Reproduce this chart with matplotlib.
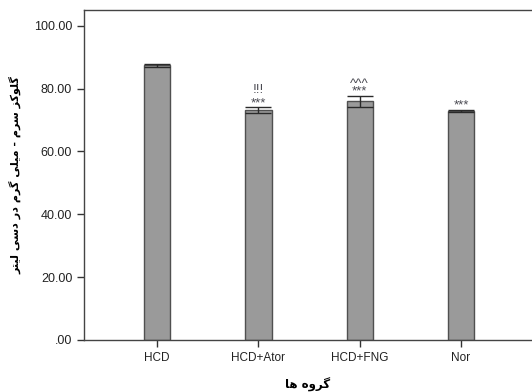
import matplotlib
matplotlib.use("Agg")
import matplotlib.pyplot as plt

groups = ["HCD", "HCD+Ator", "HCD+FNG", "Nor"]
means = [87.4, 73.1, 75.9, 72.8]
errors = [0.5, 0.9, 1.7, 0.4]
marks_low = ["", "***", "***", "***"]
marks_high = ["", "!!!", "^^^", ""]
y_ticks = [0, 20, 40, 60, 80, 100]
y_ticklabels = [".00", "20.00", "40.00", "60.00", "80.00", "100.00"]
y_label = "گلوکز سرم - میلی گرم در دسی لیتر"
x_label = "گروه ها"

# isolated, final, initial, medial presentation forms
FORMS = {
    "ا": ("\uFE8D", "\uFE8E", None, None),
    "د": ("\uFEA9", "\uFEAA", None, None),
    "ر": ("\uFEAD", "\uFEAE", None, None),
    "ز": ("\uFEAF", "\uFEB0", None, None),
    "و": ("\uFEED", "\uFEEE", None, None),
    "ت": ("\uFE95", "\uFE96", "\uFE97", "\uFE98"),
    "س": ("\uFEB1", "\uFEB2", "\uFEB3", "\uFEB4"),
    "ل": ("\uFEDD", "\uFEDE", "\uFEDF", "\uFEE0"),
    "م": ("\uFEE1", "\uFEE2", "\uFEE3", "\uFEE4"),
    "ه": ("\uFEE9", "\uFEEA", "\uFEEB", "\uFEEC"),
    "ی": ("\uFBFC", "\uFBFD", "\uFBFE", "\uFBFF"),
    "ک": ("\uFB8E", "\uFB8F", "\uFB90", "\uFB91"),
    "گ": ("\uFB92", "\uFB93", "\uFB94", "\uFB95"),
}


def shape(text):
    out = []
    n = len(text)
    for i, ch in enumerate(text):
        if ch not in FORMS:
            out.append(ch)
            continue
        prev = text[i - 1] if i > 0 else None
        nxt = text[i + 1] if i < n - 1 else None
        joins_prev = prev in FORMS and FORMS[prev][2] is not None
        joins_next = FORMS[ch][2] is not None and nxt in FORMS
        iso, fin, ini, med = FORMS[ch]
        if joins_prev and joins_next:
            out.append(med)
        elif joins_prev:
            out.append(fin)
        elif joins_next:
            out.append(ini)
        else:
            out.append(iso)
    return "".join(out)[::-1]


plt.rcParams["font.family"] = ["Liberation Sans", "DejaVu Sans"]

fig = plt.figure(figsize=(5.32, 3.92), dpi=100)
ax = fig.add_axes([84 / 532, 52 / 392, 1 - 84 / 532, 330 / 392])

x = list(range(len(groups)))
ax.bar(x, means, width=0.26, color="#9a9a9a", edgecolor="#505050", linewidth=1.0, zorder=2)
ax.errorbar(x, means, yerr=errors, fmt="none", ecolor="#2a2a2a", elinewidth=1.0,
            capsize=9.4, capthick=1.0, zorder=3)

# significance marks: one stacked text per bar
for xi, m, e, lo, hi in zip(x, means, errors, marks_low, marks_high):
    label = "\n".join(s for s in (hi, lo) if s)
    if not label:
        continue
    spacing = 1.1 if hi == "!!!" else 0.5
    ax.text(xi, m + e + 0.4, label, ha="center", va="baseline", fontsize=9.5,
            color="#4a4a52", linespacing=spacing)

ax.set_xlim(-0.72, 3.70)
ax.set_ylim(0, 105)
ax.set_xticks(x)
ax.set_xticklabels(groups, fontsize=8.5, color="#222222")
ax.set_yticks(y_ticks)
ax.set_yticklabels(y_ticklabels, fontsize=9, color="#222222")
ax.tick_params(axis="both", direction="out", length=5, width=1, color="#333333")
ax.spines["right"].set_visible(False)
for s in ["left", "bottom", "top"]:
    ax.spines[s].set_color("#444444")
    ax.spines[s].set_linewidth(1.0)

ax.set_ylabel(shape(y_label), fontsize=8, fontweight="bold", family="DejaVu Sans", labelpad=9)
ax.set_xlabel(shape(x_label), fontsize=8.5, fontweight="bold", family="DejaVu Sans", labelpad=10)

fig.savefig("out.png", dpi=100)
